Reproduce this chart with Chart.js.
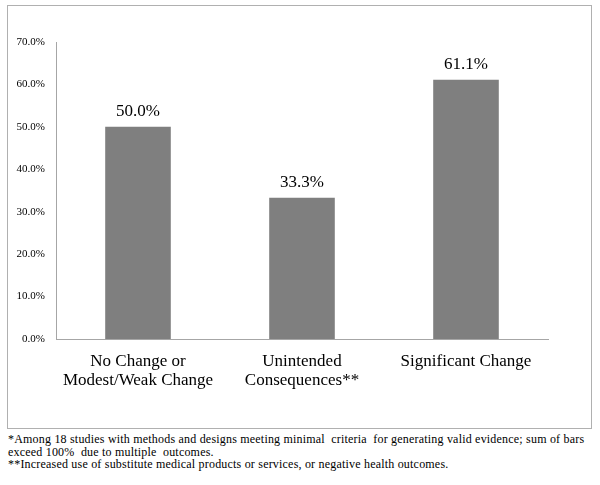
<!DOCTYPE html>
<html>
<head>
<meta charset="utf-8">
<script src="https://cdn.jsdelivr.net/npm/chart.js@4.4.0/dist/chart.umd.min.js"></script>
<style>
    body { margin: 0; background: #fff; font-family: "Liberation Serif", "Times New Roman", serif; }
    #box {
        position: absolute; left: 7px; top: 5px; width: 585px; height: 424px;
        box-sizing: border-box; border: 1px solid #b0b0b0;
    }
    .note {
        position: absolute; left: 8px; font-size: 12px; line-height: 12px;
        letter-spacing: 0.2px; color: #000; white-space: nowrap;
    }
</style>
</head>
<body>
<div id="box"><canvas id="outcome_chart"></canvas></div>
<div class="note" style="top: 433px;">*Among 18 studies with methods and designs meeting minimal&nbsp; criteria&nbsp; for generating valid evidence; sum of bars</div>
<div class="note" style="top: 446px;">exceed 100%&nbsp; due to multiple&nbsp; outcomes.</div>
<div class="note" style="top: 458px;">**Increased use of substitute medical products or services, or negative health outcomes.</div>
<script>
const categories = [
    ['No Change or', 'Modest/Weak Change'],
    ['Unintended', 'Consequences**'],
    ['Significant Change']
];
const percentValues = [50.0, 33.3, 61.1];
const yTicks = [0, 10, 20, 30, 40, 50, 60, 70];

const serif = '"Liberation Serif", "Times New Roman", serif';

// draws the value above each bar
const barValueLabels = {
    id: 'barValueLabels',
    afterDatasetsDraw(chart) {
        const ctx = chart.ctx;
        const meta = chart.getDatasetMeta(0);
        ctx.save();
        ctx.font = '17px ' + serif;
        ctx.fillStyle = '#000';
        ctx.textAlign = 'center';
        ctx.textBaseline = 'bottom';
        meta.data.forEach((bar, i) => {
            ctx.fillText(percentValues[i].toFixed(1) + '%', bar.x, bar.y - 7);
        });
        ctx.restore();
    }
};

const config = {
    type: 'bar',
    data: {
        labels: categories,
        datasets: [{
            data: percentValues,
            backgroundColor: '#7f7f7f',
            borderWidth: 0,
            barPercentage: 0.4,
            categoryPercentage: 1.0
        }]
    },
    options: {
        responsive: true,
        maintainAspectRatio: false,
        animation: false,
        layout: {
            padding: { left: 0, right: 43, top: 36, bottom: 0 }
        },
        plugins: {
            legend: { display: false },
            tooltip: { enabled: false }
        },
        scales: {
            x: {
                grid: { display: false, drawTicks: false },
                border: { display: true, color: '#a6a6a6', width: 1 },
                ticks: {
                    color: '#000',
                    font: { family: serif, size: 17, lineHeight: 1.12 },
                    padding: 13,
                    maxRotation: 0,
                    autoSkip: false
                },
                afterFit(scale) { scale.height = 89; }
            },
            y: {
                min: 0,
                max: 70,
                grid: { display: false, drawTicks: false },
                border: { display: true, color: '#a6a6a6', width: 1 },
                afterBuildTicks(scale) {
                    scale.ticks = yTicks.map(v => ({ value: v }));
                },
                ticks: {
                    color: '#000',
                    font: { family: serif, size: 11 },
                    padding: 11,
                    callback: (value) => value.toFixed(1) + '%'
                },
                afterFit(scale) { scale.width = 48; }
            }
        }
    },
    plugins: [barValueLabels]
};

let chart = new Chart(document.getElementById('outcome_chart'), config);
</script>
</body>
</html>
